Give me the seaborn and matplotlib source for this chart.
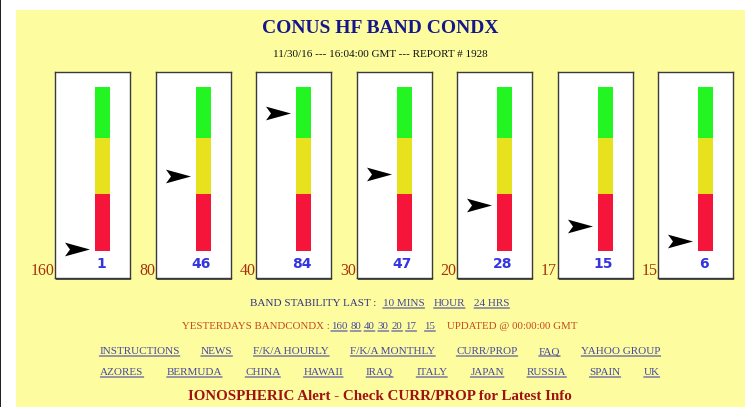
import matplotlib
matplotlib.use("Agg")
import matplotlib.pyplot as plt
import seaborn as sns
import numpy as np
from matplotlib.path import Path
from matplotlib.patches import Rectangle
from matplotlib.lines import Line2D

# ---------------- data ----------------
bands = ["160", "80", "40", "30", "20", "17", "15"]
values = [1, 46, 84, 47, 28, 15, 6]
zone_bounds = [0, 35, 69, 100]
zone_colors = ["#F5143A", "#E8E21E", "#22F522"]

title = "CONUS HF BAND CONDX"
subtitle = "11/30/16 --- 16:04:00 GMT --- REPORT # 1928"
stability_label = "BAND STABILITY LAST :"
stability_links = ["10 MINS", "HOUR", "24 HRS"]
yesterday_label = "YESTERDAYS BANDCONDX :"
yesterday_links = ["160", "80", "40", "30", "20", "17", "15"]
updated_label = "UPDATED @ 00:00:00 GMT"
nav_links = ["INSTRUCTIONS", "NEWS", "F/K/A HOURLY", "F/K/A MONTHLY",
             "CURR/PROP", "FAQ", "YAHOO GROUP"]
country_links = ["AZORES", "BERMUDA", "CHINA", "HAWAII", "IRAQ", "ITALY",
                 "JAPAN", "RUSSIA", "SPAIN", "UK"]
alert = "IONOSPHERIC Alert - Check CURR/PROP for Latest Info"

# ---------------- style ----------------
sns.set_style("white")
plt.rcParams["font.family"] = ["Liberation Serif", "DejaVu Serif"]

W, H = 748, 407
fig = plt.figure(figsize=(W / 100, H / 100), dpi=100, facecolor="white")
bg = fig.add_axes([0, 0, 1, 1])
bg.set_xlim(0, W)
bg.set_ylim(H, 0)
bg.axis("off")

YELLOW = "#FDFDA0"
bg.add_patch(Rectangle((16, 10), 729, 400, color=YELLOW, lw=0, zorder=0))
bg.add_patch(Rectangle((0, 0), 1.5, H, color="#222222", lw=0, zorder=0))

SERIF = "Liberation Serif"
bg.text(380, 33, title, ha="center", va="baseline", fontfamily=SERIF,
        fontweight="bold", fontsize=14, color="#16168C")
bg.text(380, 57, subtitle, ha="center", va="baseline", fontfamily=SERIF,
        fontsize=8, color="#111111")

# ---------------- gauges ----------------
box_left0, box_pitch, box_w = 55, 100.5, 75
box_top, box_bot = 72, 278
bar_top_px, bar_bot_px = 87, 251
px_per_unit = (bar_bot_px - bar_top_px) / 100.0
y_hi = 100 + (bar_top_px - box_top) / px_per_unit
y_lo = -(box_bot - bar_bot_px) / px_per_unit

arrow = Path([(1.0, 0.0), (-1.0, 0.55), (-0.6, 0.0), (-1.0, -0.55), (1.0, 0.0)],
             [Path.MOVETO, Path.LINETO, Path.LINETO, Path.LINETO, Path.CLOSEPOLY])

for i, (band, val) in enumerate(zip(bands, values)):
    x0 = box_left0 + i * box_pitch
    # shadow
    bg.add_patch(Rectangle((x0 + 1.5, box_top + 1.5), box_w, box_bot - box_top,
                           color="#555555", lw=0, zorder=1))
    ax = fig.add_axes([x0 / W, (H - box_bot) / H, box_w / W, (box_bot - box_top) / H])
    ax.set_facecolor("white")
    ax.set_xlim(0, box_w)
    ax.set_ylim(y_lo, y_hi)
    ax.set_xticks([])
    ax.set_yticks([])
    for sp in ax.spines.values():
        sp.set_visible(True)
        sp.set_color("#3A3A3A")
        sp.set_linewidth(1.0)
    for lo, hi, c in zip(zone_bounds[:-1], zone_bounds[1:], zone_colors):
        ax.bar(47.5, hi - lo, bottom=lo, width=15, color=c, lw=0)
    sns.scatterplot(x=[22.0], y=[val], marker=arrow, s=(25 * 0.72) ** 2,
                    color="black", linewidth=0, ax=ax, legend=False)
    ax.set_xlabel("")
    ax.set_ylabel("")
    ax.text(46, -8, str(val), ha="center", va="center", fontfamily="DejaVu Sans",
            fontweight="bold", fontsize=10, color="#3434E0")
    bg.text(x0 - 0.5, 275, band, ha="right", va="baseline", fontfamily=SERIF,
            fontsize=11.5, color="#A8300C")

# ---------------- bottom text ----------------
renderer = fig.canvas.get_renderer()


def run_line(y, runs, fontsize, cx=380, weight="normal"):
    """runs: list of (text, color, underline, gap_before_px)."""
    objs = []
    total = 0
    for s, c, u, gap in runs:
        t = bg.text(0, y, s, ha="left", va="baseline", fontfamily=SERIF,
                    fontsize=fontsize, color=c, fontweight=weight)
        w = t.get_window_extent(renderer=renderer).width
        objs.append((t, w, u, gap, c))
        total += gap + w
    x = cx - total / 2
    for t, w, u, gap, c in objs:
        x += gap
        t.set_x(x)
        if u:
            bg.add_line(Line2D([x, x + w], [y + 2.0, y + 2.0], color=c, lw=0.8,
                               snap=False))
        x += w


NAVY = "#34347E"
LINK = "#4848A0"
ORANGE = "#C8461E"

run_line(306, [(stability_label, NAVY, False, 0)] +
         [(s, LINK, True, 6 if k == 0 else 9) for k, s in enumerate(stability_links)], 8)

run_line(329, [(yesterday_label, ORANGE, False, 0)] +
         [(s, LINK, True, 1 if k == 0 else (8 if k == len(yesterday_links) - 1 else 3))
          for k, s in enumerate(yesterday_links)] +
         [(updated_label, ORANGE, False, 12)], 7.8)

run_line(354, [(s, LINK, True, 0 if k == 0 else 21) for k, s in enumerate(nav_links)], 8)
run_line(375, [(s, LINK, True, 0 if k == 0 else 23) for k, s in enumerate(country_links)], 8)

bg.text(380, 400, alert, ha="center", va="baseline", fontfamily=SERIF,
        fontweight="bold", fontsize=10.8, color="#A01212")

fig.savefig("out.png", dpi=100, facecolor="white")
